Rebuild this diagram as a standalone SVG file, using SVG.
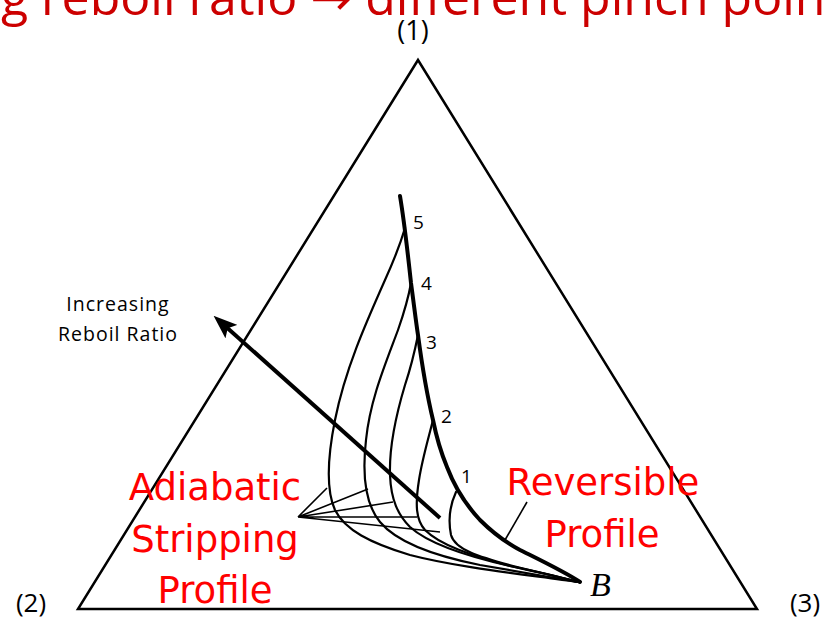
<svg xmlns="http://www.w3.org/2000/svg" width="823" height="621" viewBox="0 0 823 621">
<style>
.tri{fill:none;stroke:#000;stroke-width:2.5;stroke-linejoin:miter}
.thick{fill:none;stroke:#000;stroke-width:4;stroke-linecap:round}
.thin{fill:none;stroke:#000;stroke-width:2.2;stroke-linecap:round}
.tie{fill:none;stroke:#000;stroke-width:1.6}
.lbl{font-family:"Open Sans","DejaVu Sans",sans-serif;fill:#000}
.red{font-family:"DejaVu Sans","Noto Sans",sans-serif;fill:#ff0000;font-size:37px;text-anchor:middle}
.num{font-family:"Open Sans","DejaVu Sans",sans-serif;fill:#000;font-size:19px}
</style>
<defs>
<marker id="ah" viewBox="0 0 24 18" refX="10" refY="9" markerWidth="24" markerHeight="18" markerUnits="userSpaceOnUse" orient="auto">
<path d="M0,0 L24,9 L0,18 L5,9 z" fill="#000"/>
</marker>
</defs>
<text x="-211" y="15" font-family="Open Sans, DejaVu Sans, sans-serif" font-size="50" fill="#cc0000">Increasing reboil ratio → different pinch points</text>
<g id="triangle">
<path class="tri" d="M418,60 L757,609 L78,609 Z"/>
</g>
<g id="vertex-labels">
<text class="lbl" x="413" y="40" font-size="27" text-anchor="middle">(1)</text>
<text class="lbl" x="31" y="612" font-size="26" text-anchor="middle">(2)</text>
<text class="lbl" x="805" y="612" font-size="26" text-anchor="middle">(3)</text>
</g>
<g id="connectors">
<path id="reversible" class="thick" d="M400,196 C404,220 408,255 411,283 C414,305 416,322 418,335 C422,365 427,395 433,420 C437,440 442,455 447,467 C455,488 466,505 480,520 C492,532 505,542 520,550 C540,560 565,572 580,582"/>
<path class="thin" d="M405,228 C400,245 395,258 385,280 C365,325 345,370 335,420 C328,455 326,490 335,510 C345,530 370,543 410,555 C460,568 530,575 578,582"/>
<path class="thin" d="M411,283 C408,300 405,310 398,330 C385,365 370,400 366,440 C362,475 366,505 380,522 C395,540 430,555 480,565 C520,572 555,578 578,582"/>
<path class="thin" d="M418,335 C414,355 410,370 405,385 C396,415 389,445 390,475 C391,500 398,515 410,527 C430,545 470,557 510,566 C540,572 560,577 578,582"/>
<path class="thin" d="M433,420 C428,440 422,460 419,480 C415,505 416,520 425,530 C440,545 470,555 510,566 C540,573 560,577 578,582"/>
<path class="thin" d="M456,492 C450,505 448,520 451,535 C455,550 480,557 513,566 C545,574 565,578 578,582"/>
<path class="tie" d="M298,517 L327,488 M298,517 L368,489 M298,517 L393,502 M298,517 L417,517 M298,517 L440,532"/>
<path class="tie" d="M527,502 L505,540"/>
<line x1="440" y1="518" x2="224" y2="325" stroke="#000" stroke-width="4" marker-end="url(#ah)"/>
</g>
<g id="pinch-labels">
<text class="num" x="413" y="229">5</text>
<text class="num" x="421" y="290">4</text>
<text class="num" x="426" y="349">3</text>
<text class="num" x="441" y="423">2</text>
<text class="num" x="461" y="483">1</text>
</g>
<g id="arrow-label">
<text class="lbl" font-size="19.5" text-anchor="middle" letter-spacing="1"><tspan x="118" y="311">Increasing</tspan><tspan x="118" y="341">Reboil Ratio</tspan></text>
</g>
<g id="adiabatic-label">
<text class="red"><tspan x="215" y="500">Adiabatic</tspan><tspan x="215" y="552">Stripping</tspan><tspan x="215" y="603">Profile</tspan></text>
</g>
<g id="reversible-label">
<text class="red"><tspan x="603" y="495">Reversible</tspan><tspan x="602" y="547">Profile</tspan></text>
</g>
<g id="B-label">
<text x="590" y="596" font-family="Liberation Serif, serif" font-style="italic" font-size="34" fill="#000">B</text>
</g>
</svg>
